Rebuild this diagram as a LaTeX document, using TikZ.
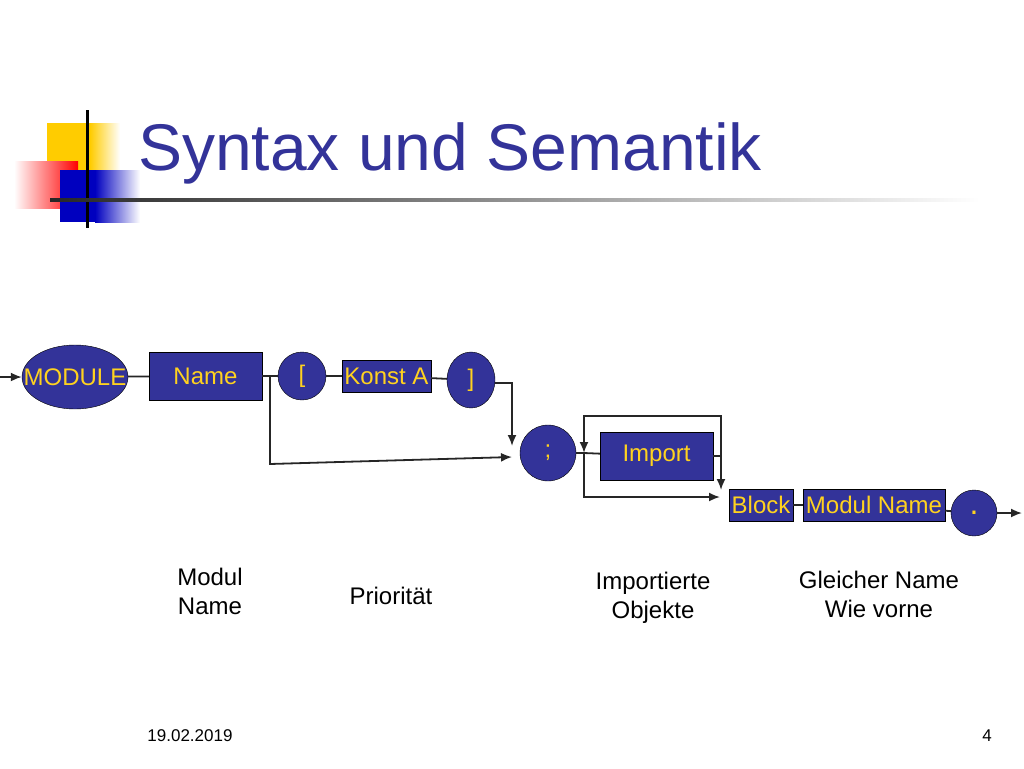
\documentclass[tikz,border=0pt]{standalone}
\usepackage{fontspec}
\setmainfont{Liberation Sans}
\usetikzlibrary{arrows.meta,shapes.geometric}
\definecolor{nblue}{HTML}{333399}
\definecolor{nyel}{HTML}{FFD21F}
\definecolor{lyel}{HTML}{FFCC00}
\tikzset{
  box/.style={draw=black, fill=nblue, text=nyel, font=\fontsize{24}{26}\selectfont, inner sep=0pt},
  lbl/.style={font=\fontsize{24}{29}\selectfont, align=center},
  ln/.style={draw=black!85, line width=1.8pt},
  ar/.style={ln, -{Latex[length=11pt,width=9pt]}},
}
\begin{document}
\begin{tikzpicture}[x=1pt,y=-1pt]
\useasboundingbox (0,0) rectangle (1024,768);
% logo
\fill[lyel] (47,123) rectangle (90,193);
\shade[left color=lyel, right color=white] (90,123) rectangle (120,193);
\shade[left color=white, right color=red] (14,161) rectangle (78,208);
\fill[blue!75!black] (60,170) rectangle (95,222);
\shade[left color=blue!75!black, right color=white] (95,170) rectangle (140,222);
\draw[line width=3pt] (87,110) -- (87,228);
\shade[left color=black!85, right color=white] (50,198.5) rectangle (980,201.5);
\node[anchor=base west, text=nblue, font=\fontsize{66}{70}\selectfont, inner sep=0pt] (title) at (138,170) {Syntax und Semantik};
% diagram nodes
\node[box, ellipse, inner xsep=-20pt, inner ysep=-2pt, minimum width=106pt, minimum height=64pt] (mod) at (75,377) {MODULE};
\node[box, rectangle, minimum width=113pt, minimum height=48pt] (name) at (205.5,376) {Name};
\node[box, circle, minimum size=48pt] (lb) at (302,376) {[};
\node[box, rectangle, minimum width=89pt, minimum height=32pt] (konst) at (386.5,376) {Konst A};
\node[box, ellipse, minimum width=48pt, minimum height=56pt] (rb) at (471,380) {]};
\node[box, circle, minimum size=56pt] (semi) at (548,453) {;};
\node[box, rectangle, minimum width=113pt, minimum height=48pt] (imp) at (656.5,456) {Import};
\node[box, rectangle, minimum width=64pt, minimum height=32pt] (block) at (761,505) {Block};
\node[box, rectangle, minimum width=142pt, minimum height=32pt] (mname) at (874,505) {Modul Name};
\node[box, circle, minimum size=46pt, font=\fontsize{32}{32}\selectfont] (dot) at (974,513) {.};
\coordinate (start) at (0,377);
\coordinate (end) at (1022,513);
\coordinate (br) at (270,376);
\coordinate (lp) at (584,453);
% connectors
\draw[ar] (start) -- (mod);
\draw[ln] (mod) -- (name);
\draw[ln] (name) -- (lb);
\draw[ln] (lb) -- (konst);
\draw[ln] (konst) -- (rb);
\draw[ar] (rb.east) ++(0,3) -| (512,446);
\draw[ar] (br) -- (270,464) -- (512,457);
\draw[ln] (semi) -- (lp) -- (imp);
\draw[ar] (imp.east) -- (721,456) -- (721,416) -- (584,416) -- (lp);
\draw[ar] (721,456) -- (721,490);
\draw[ar] (lp) -- (584,497) -- (720,497);
\draw[ln] (block) -- (mname);
\draw[ln] (mname) -- (dot);
\draw[ar] (dot) -- (end);
% labels
\node[lbl] (l1) at (210,591) {Modul\\Name};
\node[lbl] (l2) at (391,596) {Priorität};
\node[lbl] (l3) at (653,598) {Importierte\\Objekte};
\node[lbl] (l4) at (879,594) {Gleicher Name\\Wie vorne};
\node[font=\fontsize{17}{19}\selectfont] (date) at (190,736) {19.02.2019};
\node[font=\fontsize{17}{19}\selectfont] (pg) at (987,736) {4};
\end{tikzpicture}
\end{document}
